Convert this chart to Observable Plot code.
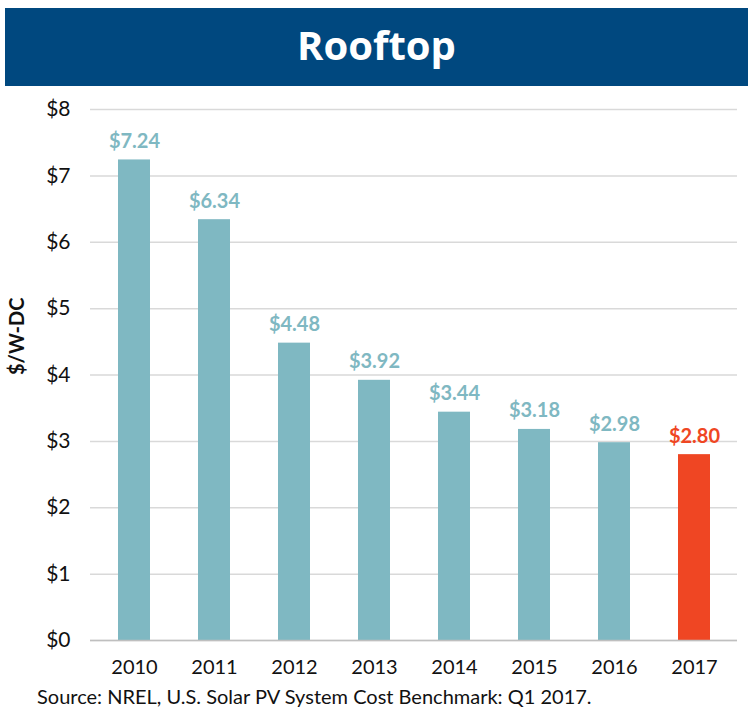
<!DOCTYPE html>
<html><head><meta charset="utf-8">
<script src="https://cdn.jsdelivr.net/npm/d3@7"></script>
<script src="https://cdn.jsdelivr.net/npm/@observablehq/plot@0.6"></script>
<style>
body{margin:0;background:#fff;font-family:Lato,sans-serif;overflow:hidden;}
#banner{position:absolute;left:5px;top:8px;width:743px;height:78px;background:#00487F;color:#fff;font-weight:bold;font-size:40px;line-height:74px;text-align:center;font-family:"Open Sans",sans-serif;}
#chart{position:absolute;left:0;top:86px;}
#caption{position:absolute;left:37px;top:686px;height:20px;font-size:20px;line-height:20px;color:#111;white-space:nowrap;}
</style></head>
<body>
<div id="banner">Rooftop</div>
<div id="chart"></div>
<div id="caption">Source: NREL, U.S. Solar PV System Cost Benchmark: Q1 2017.</div>
<script>
const years = ["2010","2011","2012","2013","2014","2015","2016","2017"];
const costs = [7.24, 6.34, 4.48, 3.92, 3.44, 3.18, 2.98, 2.80];
const highlight = [false,false,false,false,false,false,false,true];
const yTicks = [0,1,2,3,4,5,6,7,8];

const data = years.map((y,i)=>({year:y, cost:costs[i], hi:highlight[i]}));
const teal = "#7FB8C2", red = "#EF4623";

const plot = Plot.plot({
  width: 748, height: 598,
  marginTop: 23, marginBottom: 44, marginLeft: 90, marginRight: 11,
  style: {fontFamily: "Lato, sans-serif", fontSize: "20px", color: "#111"},
  x: {domain: years, paddingInner: 0.6, paddingOuter: 0.3, label: null},
  y: {domain: [0,8], label: null},
  marks: [
    Plot.gridY(yTicks, {stroke: "#d9d9d9", strokeOpacity: 1, strokeWidth: 1.5}),
    Plot.barY(data, {x: "year", y: "cost", fill: d => d.hi ? red : teal}),
    Plot.ruleY([0], {stroke: "#bfbfbf", strokeWidth: 1.5}),
    Plot.text(data, {x: "year", y: "cost", text: d => "$" + d.cost.toFixed(2), fill: d => d.hi ? red : teal,
      fontWeight: "bold", fontSize: 20, lineAnchor: "bottom", dy: -12}),
    Plot.axisX({tickSize: 0, tickPadding: 19, fontSize: 20, label: null}),
    Plot.axisY(yTicks, {tickSize: 0, tickPadding: 20, tickFormat: d => "$" + d, fontSize: 21, label: null}),
    Plot.text(["$/W-DC"], {frameAnchor: "left", dx: -73, rotate: -90, fontWeight: "bold", fontSize: 20, fill: "#111"})
  ]
});
document.getElementById("chart").appendChild(plot);
</script>
</body></html>
